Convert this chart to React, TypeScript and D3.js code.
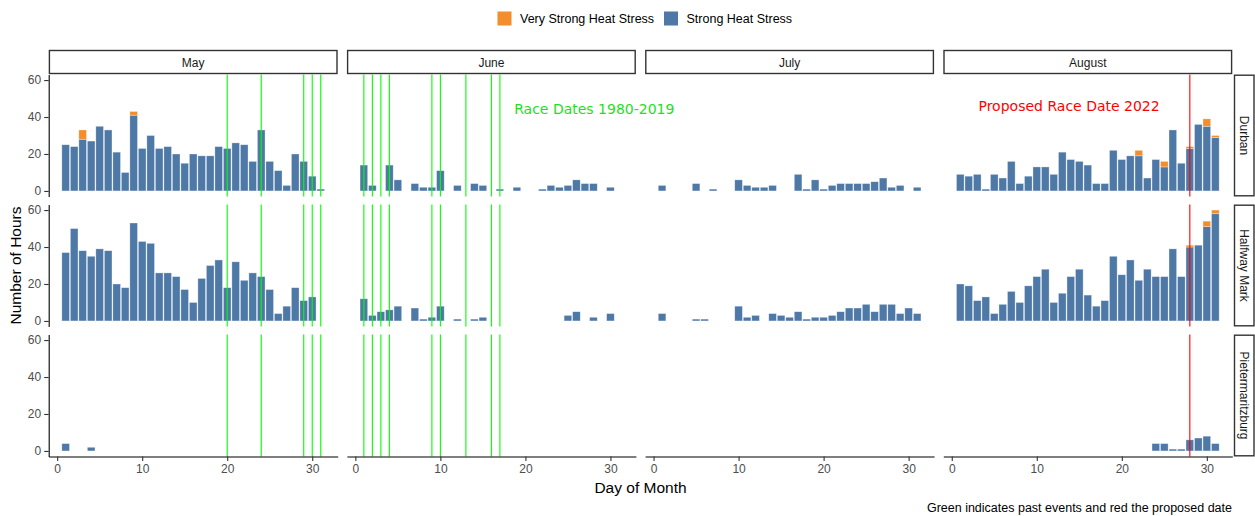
import React, { useEffect, useRef } from "react";
import * as d3 from "d3";

const months = ["May", "June", "July", "August"];
const locations = ["Durban", "Halfway Mark", "Pietermaritzburg"];
const xTicks = [0, 10, 20, 30];
const yTicks = [0, 20, 40, 60];
const raceDatesMay = [20, 24, 29, 30, 31];
const raceDatesJune = [1, 2, 3, 4, 9, 10, 13, 16, 17];
const proposedDateAugust = [28];

// hours of strong heat stress, index 0 = day 1
const durbanMay = [25, 24, 28, 27, 35, 33, 21, 10, 41, 23, 30, 23, 24, 20, 15, 20, 19, 19, 24, 23, 26, 25, 16, 33, 16, 11, 3, 20, 16, 8, 1];
const durbanJune = [14, 3, 0, 14, 6, 0, 4, 2, 2, 11, 0, 3, 0, 4, 3, 0, 1, 0, 2, 0, 0, 1, 3, 2, 3, 6, 4, 4, 0, 2];
const durbanJuly = [3, 0, 0, 0, 4, 0, 1, 0, 0, 6, 3, 2, 2, 3, 0, 0, 9, 1, 6, 1, 3, 4, 4, 4, 4, 5, 7, 2, 3, 0, 2];
const durbanAug = [9, 8, 9, 1, 9, 7, 16, 4, 8, 13, 13, 9, 21, 17, 16, 14, 4, 4, 22, 17, 19, 19, 7, 17, 13, 33, 15, 23, 36, 35, 29];
const halfwayMay = [37, 50, 38, 35, 39, 38, 20, 18, 53, 43, 42, 26, 26, 24, 17, 10, 23, 30, 33, 18, 32, 22, 26, 24, 17, 4, 8, 18, 11, 13, 0];
const halfwayJune = [12, 3, 5, 6, 8, 0, 7, 1, 2, 8, 0, 1, 0, 1, 2, 0, 0, 0, 0, 0, 0, 0, 0, 0, 3, 5, 0, 2, 0, 4];
const halfwayJuly = [4, 0, 0, 0, 1, 1, 0, 0, 0, 8, 2, 3, 0, 4, 3, 2, 5, 1, 2, 2, 3, 5, 7, 7, 9, 5, 9, 9, 4, 7, 4];
const halfwayAug = [20, 19, 11, 13, 4, 9, 16, 10, 19, 24, 28, 10, 15, 24, 28, 14, 8, 11, 35, 25, 33, 22, 28, 24, 24, 39, 24, 40, 41, 51, 58];
const pmbMay = [4, 0, 0, 2];
const pmbJune = [];
const pmbJuly = [];
const pmbAug = [0, 0, 0, 0, 0, 0, 0, 0, 0, 0, 0, 0, 0, 0, 0, 0, 0, 0, 0, 0, 0, 0, 0, 4, 4, 1, 1, 6, 7, 8, 4];

// hours of very strong heat stress, [day, hours]
const durbanMayVery = [[3, 5], [9, 2]];
const durbanAugVery = [[22, 3], [25, 3], [28, 1], [30, 4], [31, 1]];
const halfwayAugVery = [[28, 1], [30, 3], [31, 2]];

const strongByPanel = [
    [durbanMay, durbanJune, durbanJuly, durbanAug],
    [halfwayMay, halfwayJune, halfwayJuly, halfwayAug],
    [pmbMay, pmbJune, pmbJuly, pmbAug],
];
const veryByPanel = [
    [durbanMayVery, [], [], durbanAugVery],
    [[], [], [], halfwayAugVery],
    [[], [], [], []],
];
const raceLines = [raceDatesMay, raceDatesJune, [], []];
const proposedLines = [[], [], [], proposedDateAugust];

const BLUE = "#4E79A7";
const ORANGE = "#F28E2B";
const GREEN = "#00FF00";
const RED = "#FF0000";
const SANS = "'Liberation Sans', Arial, Helvetica, sans-serif";
const DEJAVU = "'DejaVu Sans', sans-serif";

const App = () => {
    const svgRef = useRef(null);

    useEffect(() => {
        const width = 1255;
        const height = 516;
        const panelW = 289;
        const panelH = 122;
        const panelX = [48.7, 346.9, 645.1, 943.3];
        const panelY = [74.5, 204.5, 334.5];
        const stripTop = 50.5;
        const stripH = 24;

        const svg = d3.select(svgRef.current);
        svg.selectAll("*").remove();
        svg.attr("width", width).attr("height", height);

        svg.append("rect").attr("width", width).attr("height", height).attr("fill", "white");

        const x = d3.scaleLinear().domain([-0.995, 32.995]).range([0, panelW]);
        const y = d3.scaleLinear().domain([-3, 63]).range([panelH, 0]);

        locations.forEach((loc, r) => {
            months.forEach((month, c) => {
                const g = svg.append("g")
                    .attr("transform", `translate(${panelX[c]},${panelY[r]})`);

                const strong = strongByPanel[r][c];
                const very = veryByPanel[r][c];
                const bars = [];
                strong.forEach((v, i) => {
                    if (v > 0) bars.push({ day: i + 1, y0: 0, y1: v, fill: BLUE });
                });
                very.forEach(([day, v]) => {
                    const base = strong[day - 1] || 0;
                    bars.push({ day, y0: base, y1: base + v, fill: ORANGE });
                });

                g.selectAll("rect.bar")
                    .data(bars)
                    .enter()
                    .append("rect")
                    .attr("class", "bar")
                    .attr("x", d => x(d.day - 0.45))
                    .attr("width", d => x(d.day + 0.45) - x(d.day - 0.45))
                    .attr("y", d => y(d.y1))
                    .attr("height", d => y(d.y0) - y(d.y1))
                    .attr("fill", d => d.fill)
                    .attr("stroke", "#ffffff")
                    .attr("stroke-opacity", 0.55)
                    .attr("stroke-width", 0.6);

                // race date lines sit on top of the bars
                g.selectAll("line.race")
                    .data(raceLines[c])
                    .enter()
                    .append("line")
                    .attr("x1", d => x(d))
                    .attr("x2", d => x(d))
                    .attr("y1", 0)
                    .attr("y2", panelH)
                    .attr("stroke", GREEN)
                    .attr("stroke-width", 1.1);

                g.selectAll("line.proposed")
                    .data(proposedLines[c])
                    .enter()
                    .append("line")
                    .attr("x1", d => x(d))
                    .attr("x2", d => x(d))
                    .attr("y1", 0)
                    .attr("y2", panelH)
                    .attr("stroke", RED)
                    .attr("stroke-width", 1.1);

                if (c === 0) {
                    const ax = g.append("g").call(d3.axisLeft(y).tickValues(yTicks).tickSize(4.5).tickSizeOuter(0).tickPadding(3));
                    ax.select(".domain").attr("stroke", "#000").attr("stroke-width", 1.1);
                    ax.selectAll(".tick line").attr("stroke", "#333").attr("stroke-width", 1.1);
                    ax.selectAll(".tick text").attr("fill", "#4D4D4D").style("font-size", "12px").style("font-family", SANS);
                }
                if (r === locations.length - 1) {
                    const ax = g.append("g")
                        .attr("transform", `translate(0,${panelH})`)
                        .call(d3.axisBottom(x).tickValues(xTicks).tickSize(4.5).tickSizeOuter(0).tickPadding(3));
                    ax.select(".domain").attr("stroke", "#000").attr("stroke-width", 1.1);
                    ax.selectAll(".tick line").attr("stroke", "#333").attr("stroke-width", 1.1);
                    ax.selectAll(".tick text").attr("fill", "#4D4D4D").style("font-size", "12px").style("font-family", SANS);
                }

                if (r === 0 && month === "June") {
                    g.append("text")
                        .attr("x", x(28.1))
                        .attr("y", y(44.6))
                        .attr("text-anchor", "middle")
                        .attr("dominant-baseline", "central")
                        .attr("fill", "#1EE01E")
                        .style("font-family", DEJAVU)
                        .style("font-size", "14px")
                        .text("Race Dates 1980-2019");
                }
                if (r === 0 && month === "August") {
                    g.append("text")
                        .attr("x", x(13.8))
                        .attr("y", y(46))
                        .attr("text-anchor", "middle")
                        .attr("dominant-baseline", "central")
                        .attr("fill", RED)
                        .style("font-family", DEJAVU)
                        .style("font-size", "14px")
                        .text("Proposed Race Date 2022");
                }
            });
        });

        // month strips
        months.forEach((month, c) => {
            svg.append("rect")
                .attr("x", panelX[c] + 0.7)
                .attr("y", stripTop)
                .attr("width", panelW - 1.4)
                .attr("height", stripH - 1)
                .attr("fill", "white")
                .attr("stroke", "#333")
                .attr("stroke-width", 1.4);
            svg.append("text")
                .attr("x", panelX[c] + panelW / 2)
                .attr("y", stripTop + stripH / 2)
                .attr("text-anchor", "middle")
                .attr("dominant-baseline", "central")
                .style("font-family", SANS)
                .style("font-size", "12px")
                .attr("fill", "#1A1A1A")
                .text(month);
        });

        // location strips
        const stripX = 1234.5;
        const stripW = 19.5;
        locations.forEach((loc, r) => {
            svg.append("rect")
                .attr("x", stripX)
                .attr("y", panelY[r] + 0.7)
                .attr("width", stripW)
                .attr("height", panelH - 1.4)
                .attr("fill", "white")
                .attr("stroke", "#333")
                .attr("stroke-width", 1.4);
            svg.append("text")
                .attr("transform", `translate(${stripX + stripW / 2},${panelY[r] + panelH / 2}) rotate(90)`)
                .attr("text-anchor", "middle")
                .attr("dominant-baseline", "central")
                .style("font-family", SANS)
                .style("font-size", "12px")
                .attr("fill", "#1A1A1A")
                .text(loc);
        });

        // legend
        const legendItems = [
            { label: "Very Strong Heat Stress", fill: ORANGE, x: 497.5 },
            { label: "Strong Heat Stress", fill: BLUE, x: 664 },
        ];
        legendItems.forEach(item => {
            svg.append("rect")
                .attr("x", item.x)
                .attr("y", 11.5)
                .attr("width", 14)
                .attr("height", 14)
                .attr("fill", item.fill);
            svg.append("text")
                .attr("x", item.x + 22.5)
                .attr("y", 18.7)
                .attr("dominant-baseline", "central")
                .style("font-family", SANS)
                .style("font-size", "12.5px")
                .attr("fill", "#000")
                .text(item.label);
        });

        // axis titles and caption
        svg.append("text")
            .attr("x", (panelX[0] + panelX[3] + panelW) / 2)
            .attr("y", 487)
            .attr("text-anchor", "middle")
            .attr("dominant-baseline", "central")
            .style("font-family", SANS)
            .style("font-size", "15.5px")
            .text("Day of Month");

        svg.append("text")
            .attr("transform", `translate(15,${panelY[0] + (panelY[2] + panelH - panelY[0]) / 2}) rotate(-90)`)
            .attr("text-anchor", "middle")
            .attr("dominant-baseline", "central")
            .style("font-family", SANS)
            .style("font-size", "15.5px")
            .text("Number of Hours");

        svg.append("text")
            .attr("x", 1232)
            .attr("y", 508)
            .attr("text-anchor", "end")
            .attr("dominant-baseline", "central")
            .style("font-family", SANS)
            .style("font-size", "12.5px")
            .text("Green indicates past events and red the proposed date");
    }, []);

    return (
        <div style={{ position: "absolute", left: 0, top: 0 }}>
            <svg ref={svgRef}></svg>
        </div>
    );
};

export default App;
